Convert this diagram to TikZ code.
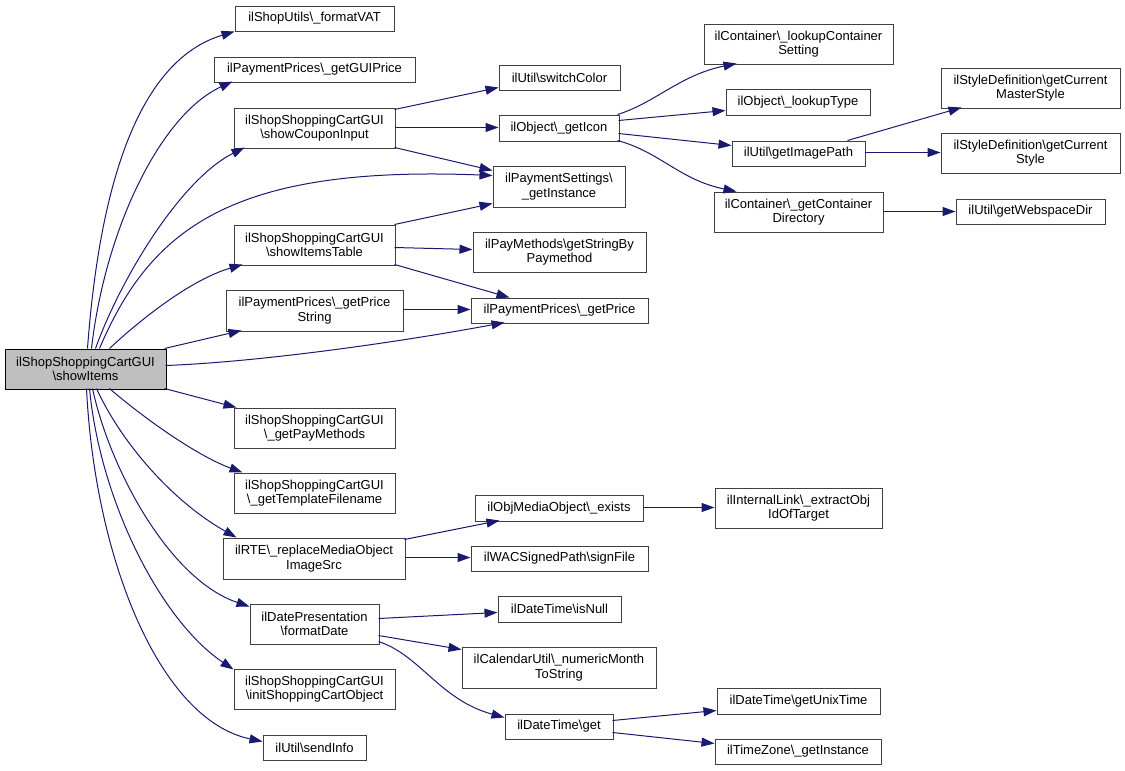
\documentclass[tikz,border=0pt]{standalone}
\usepackage{fontspec}
\setmainfont{Liberation Sans}
\usetikzlibrary{arrows.meta,calc}
\newcommand\bsl{\textbackslash}
\definecolor{edgeblue}{HTML}{191970}
\definecolor{boxline}{HTML}{404040}
\definecolor{mainfill}{HTML}{BFBFBF}
\tikzset{
  box/.style={draw=boxline, line width=1pt, fill=white, inner sep=0pt, align=center,
    font=\fontsize{13}{14.5}\selectfont},
  mainbox/.style={fill=mainfill, draw=black},
  edge/.style={draw=edgeblue, line width=1pt, -{Triangle[length=13pt,width=9pt]}}
}
\newcommand\bx[7][]{\node[box,#1, minimum width={#5pt-#3pt}, minimum height={#6pt-#4pt}] (#2) at ({(#3+#5)/2},{(#4+#6)/2}) {#7};}
\begin{document}
\begin{tikzpicture}[x=1pt,y=-1pt]
\useasboundingbox (0,0) rectangle (1125,771);
% level 0
\bx[mainbox]{main}{5}{349}{166}{389}{ilShopShoppingCartGUI\\\bsl showItems}
% level 1
\bx{fvat}{235}{6}{394}{31}{ilShopUtils\bsl\_formatVAT}
\bx{gui}{214}{57}{415}{82}{ilPaymentPrices\bsl\_getGUIPrice}
\bx{coupon}{234}{108}{395}{148}{ilShopShoppingCartGUI\\\bsl showCouponInput}
\bx{itab}{234}{225}{395}{265}{ilShopShoppingCartGUI\\\bsl showItemsTable}
\bx{pstr}{226}{290}{403}{331}{ilPaymentPrices\bsl\_getPrice\\String}
\bx{paym}{234}{408}{395}{448}{ilShopShoppingCartGUI\\\bsl\_getPayMethods}
\bx{tmpl}{234}{473}{395}{513}{ilShopShoppingCartGUI\\\bsl\_getTemplateFilename}
\bx{rte}{223}{538}{405}{579}{ilRTE\bsl\_replaceMediaObject\\ImageSrc}
\bx{fdate}{250}{604}{379}{644}{ilDatePresentation\\\bsl formatDate}
\bx{init}{234}{669}{395}{709}{ilShopShoppingCartGUI\\\bsl initShoppingCartObject}
\bx{sinfo}{263}{735}{366}{760}{ilUtil\bsl sendInfo}
% level 2
\bx{swc}{499}{65}{620}{90}{ilUtil\bsl switchColor}
\bx{icon}{499}{115}{619}{141}{ilObject\bsl\_getIcon}
\bx{pset}{493}{166}{625}{207}{ilPaymentSettings\bsl\\\_getInstance}
\bx{pmeth}{473}{232}{646}{272}{ilPayMethods\bsl getStringBy\\Paymethod}
\bx{price}{471}{298}{648}{323}{ilPaymentPrices\bsl\_getPrice}
\bx{exists}{475}{495}{643}{521}{ilObjMediaObject\bsl\_exists}
\bx{wac}{471}{546}{648}{571}{ilWACSignedPath\bsl signFile}
\bx{isnull}{498}{596}{621}{622}{ilDateTime\bsl isNull}
\bx{cal}{462}{647}{656}{688}{ilCalendarUtil\bsl\_numericMonth\\ToString}
\bx{dget}{505}{714}{613}{739}{ilDateTime\bsl get}
% level 3
\bx{lcs}{704}{24}{893}{64}{ilContainer\bsl\_lookupContainer\\Setting}
\bx{ltype}{726}{89}{870}{115}{ilObject\bsl\_lookupType}
\bx{img}{732}{141}{865}{166}{ilUtil\bsl getImagePath}
\bx{cdir}{714}{192}{883}{232}{ilContainer\bsl\_getContainer\\Directory}
\bx{extr}{715}{488}{882}{528}{ilInternalLink\bsl\_extractObj\\IdOfTarget}
\bx{unix}{717}{688}{880}{714}{ilDateTime\bsl getUnixTime}
\bx{tz}{715}{739}{881}{764}{ilTimeZone\bsl\_getInstance}
% level 4
\bx{mstyle}{941}{68}{1120}{108}{ilStyleDefinition\bsl getCurrent\\MasterStyle}
\bx{cstyle}{941}{133}{1120}{173}{ilStyleDefinition\bsl getCurrent\\Style}
\bx{wdir}{956}{199}{1105}{224}{ilUtil\bsl getWebspaceDir}

% edges from main
\draw[edge] ($(main.north west)+(83,0)$) .. controls (100,180) and (140,60) .. (fvat.south west);
\draw[edge] ($(main.north west)+(87,0)$) .. controls (105,230) and (160,115) .. ($(gui.north west)+(19,25)$);
\draw[edge] ($(main.north west)+(91,0)$) .. controls (120,280) and (180,180) .. ($(coupon.north west)+(11,40)$);
\draw[edge] ($(main.north west)+(95,0)$) .. controls (150,230) and (230,165) .. ($(pset.north west)+(0,10)$);
\draw[edge] ($(main.north west)+(105,0)$) .. controls (140,320) and (190,280) .. ($(itab.north west)+(9,40)$);
\draw[edge] ($(main.north west)+(160,0)$) -- ($(pstr.north west)+(16,41)$);
\draw[edge] ($(main.north west)+(161,17)$) .. controls (260,362) and (400,342) .. ($(price.north west)+(34,25)$);
\draw[edge] ($(main.north west)+(160,40)$) -- ($(paym.north west)+(3,0)$);
\draw[edge] ($(main.north west)+(105,40)$) .. controls (140,415) and (195,455) .. ($(tmpl.north west)+(9,0)$);
\draw[edge] ($(main.north west)+(92,40)$) .. controls (120,440) and (170,500) .. ($(rte.north west)+(14,0)$);
\draw[edge] ($(main.north west)+(88,40)$) .. controls (110,470) and (170,580) .. ($(fdate.north west)+(0,3)$);
\draw[edge] ($(main.north west)+(85,40)$) .. controls (100,500) and (160,620) .. ($(init.north west)+(0,1)$);
\draw[edge] ($(main.north west)+(82,40)$) .. controls (95,560) and (160,720) .. ($(sinfo.north west)+(0,7)$);
% coupon
\draw[edge] ($(coupon.north west)+(161,2)$) -- ($(swc.north west)+(0,23)$);
\draw[edge] ($(coupon.north west)+(161,20)$) -- ($(icon.north west)+(0,13)$);
\draw[edge] ($(coupon.north west)+(161,40)$) -- ($(pset.north west)+(0,5)$);
% items table
\draw[edge] ($(itab.north west)+(161,0)$) -- ($(pset.north west)+(0,38)$);
\draw[edge] ($(itab.north west)+(161,23)$) -- ($(pmeth.north west)+(0,18)$);
\draw[edge] ($(itab.north west)+(161,40)$) -- ($(price.north west)+(39,0)$);
% price string
\draw[edge] ($(pstr.north west)+(177,20)$) -- ($(price.north west)+(0,12)$);
% getIcon
\draw[edge] ($(icon.north west)+(119,0)$) .. controls (655,103) and (680,75) .. ($(lcs.north west)+(33,40)$);
\draw[edge] ($(icon.north west)+(120,6)$) -- ($(ltype.north west)+(0,22)$);
\draw[edge] ($(icon.north west)+(120,19)$) -- ($(img.north west)+(0,5)$);
\draw[edge] ($(icon.north west)+(119,26)$) .. controls (660,152) and (680,180) .. ($(cdir.north west)+(23,0)$);
% getImagePath
\draw[edge] ($(img.north west)+(116,0)$) -- ($(mstyle.north west)+(21,40)$);
\draw[edge] ($(img.north west)+(133,12)$) -- ($(cstyle.north west)+(0,20)$);
% container dir
\draw[edge] ($(cdir.north west)+(169,20)$) -- ($(wdir.north west)+(0,13)$);
% RTE
\draw[edge] ($(rte.north west)+(182,2)$) -- ($(exists.north west)+(25,26)$);
\draw[edge] ($(rte.north west)+(182,20)$) -- ($(wac.north west)+(0,12)$);
\draw[edge] ($(exists.north west)+(168,13)$) -- ($(extr.north west)+(0,20)$);
% format date
\draw[edge] ($(fdate.north west)+(129,15)$) -- ($(isnull.north west)+(0,17)$);
\draw[edge] ($(fdate.north west)+(129,32)$) -- ($(cal.north west)+(0,3)$);
\draw[edge] ($(fdate.north west)+(129,38)$) .. controls (420,655) and (440,700) .. ($(dget.north west)+(0,4)$);
% DateTime get
\draw[edge] ($(dget.north west)+(108,7)$) -- ($(unix.north west)+(0,23)$);
\draw[edge] ($(dget.north west)+(108,19)$) -- ($(tz.north west)+(0,5)$);
\end{tikzpicture}
\end{document}
